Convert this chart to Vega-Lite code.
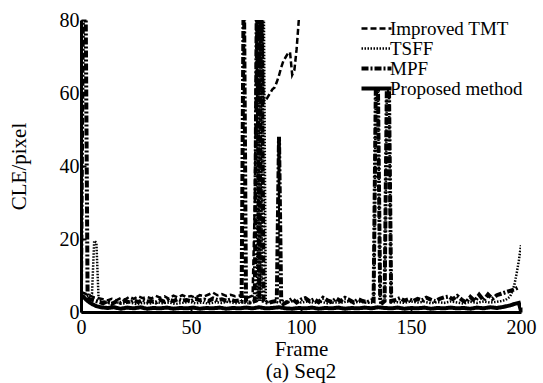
{
  "$schema": "https://vega.github.io/schema/vega-lite/v6.json",
  "width": 440,
  "height": 292,
  "autosize": {"type": "none"},
  "padding": {"left": 81, "top": 20, "right": 22, "bottom": 71},
  "background": "white",
  "config": {
    "view": {"stroke": null},
    "font": "Liberation Serif",
    "axis": {
      "domainColor": "black", "domainWidth": 3, "tickColor": "black", "tickWidth": 2,
      "labelColor": "black", "titleColor": "black", "labelFont": "Liberation Serif", "titleFont": "Liberation Serif",
      "labelFontSize": 20, "titleFontSize": 21, "titleFontWeight": "normal", "grid": false
    },
    "legend": {
      "labelFont": "Liberation Serif", "labelFontSize": 19, "labelColor": "black", "rowPadding": 0
    }
  },
  "title": {"text": "(a) Seq2", "orient": "bottom", "font": "Liberation Serif", "fontSize": 21, "fontWeight": "normal", "color": "black", "offset": 2},
  "encoding": {
    "x": {"field": "f", "type": "quantitative", "scale": {"domain": [0, 200], "nice": false},
      "axis": {"title": "Frame", "values": [0, 50, 100, 150, 200], "tickSize": -5, "labelPadding": 10, "titlePadding": 1, "labelFlush": false}},
    "y": {"field": "v", "type": "quantitative", "scale": {"domain": [0, 80], "nice": false},
      "axis": {"title": "CLE/pixel", "values": [0, 20, 40, 60, 80], "tickSize": -5, "labelPadding": 7, "titlePadding": 30, "labelFlush": false}}
  },
  "layer": [
    {
      "data": {"values": [
        {"f":0,"v":5.5},{"f":2,"v":5},{"f":4,"v":4.5},{"f":6,"v":4},{"f":8,"v":3.8},{"f":10,"v":3.5},{"f":12,"v":3.2},{"f":14,"v":3.6},{"f":16,"v":3.2},{"f":18,"v":3.8},{"f":20,"v":3.4},{"f":22,"v":4.2},{"f":24,"v":3.6},{"f":26,"v":4.3},{"f":28,"v":3.8},{"f":30,"v":4.1},{"f":32,"v":3.7},{"f":34,"v":4.4},{"f":36,"v":3.9},{"f":38,"v":4.3},{"f":40,"v":3.6},{"f":42,"v":4.5},{"f":44,"v":4.0},{"f":46,"v":4.6},{"f":48,"v":4.1},{"f":50,"v":4.4},{"f":52,"v":3.9},{"f":54,"v":4.6},{"f":56,"v":4.3},{"f":58,"v":4.8},{"f":60,"v":5.3},{"f":62,"v":4.6},{"f":64,"v":4.9},{"f":66,"v":4.4},{"f":68,"v":4.7},{"f":70,"v":4.3},{"f":72,"v":4.5},{"f":74,"v":4.2},{"f":76,"v":4.0},{"f":78,"v":4.5},{"f":79,"v":30},{"f":80,"v":95},{"f":81,"v":58},{"f":82,"v":95},{"f":83,"v":57.5},{"f":84,"v":58},{"f":85,"v":59},{"f":86,"v":60},{"f":87,"v":61},{"f":88,"v":61.5},{"f":89,"v":63},{"f":90,"v":64.8},{"f":91,"v":67},{"f":92,"v":68.8},{"f":93,"v":69.8},{"f":94,"v":70.8},{"f":95,"v":71.2},{"f":96,"v":65},{"f":97,"v":66.3},{"f":98,"v":72},{"f":99,"v":80},{"f":100,"v":88}
      ]},
      "mark": {"type": "line", "clip": true, "color": "black", "strokeWidth": 2.5},
      "encoding": {
        "strokeDash": {"datum": "Improved TMT"}
      }
    },
    {
      "data": {"values": [
        {"f":0,"v":3.8},{"f":2,"v":4.2},{"f":4,"v":4.5},{"f":5,"v":5},{"f":6,"v":19.5},{"f":7,"v":19},{"f":8,"v":3.5},{"f":10,"v":2.8},{"f":13,"v":2.4},{"f":16,"v":2.7},{"f":19,"v":2.3},{"f":22,"v":2.6},{"f":25,"v":2.2},{"f":28,"v":2.5},{"f":31,"v":2.3},{"f":34,"v":2.7},{"f":37,"v":2.4},{"f":40,"v":2.6},{"f":43,"v":2.2},{"f":46,"v":2.5},{"f":49,"v":2.8},{"f":52,"v":2.4},{"f":55,"v":2.6},{"f":58,"v":2.3},{"f":61,"v":2.7},{"f":64,"v":2.5},{"f":67,"v":2.8},{"f":70,"v":2.4},{"f":73,"v":2.6},{"f":76,"v":2.4},{"f":78,"v":2.7},{"f":80,"v":3},{"f":81,"v":95},{"f":82,"v":3},{"f":83,"v":95},{"f":84,"v":3},{"f":86,"v":2.6},{"f":88,"v":3.0},{"f":90,"v":2.5},{"f":92,"v":3.0},{"f":94,"v":2.7},{"f":97,"v":3.0},{"f":100,"v":2.6},{"f":103,"v":2.9},{"f":106,"v":2.5},{"f":109,"v":2.8},{"f":112,"v":2.4},{"f":115,"v":2.7},{"f":118,"v":2.5},{"f":121,"v":2.9},{"f":124,"v":2.6},{"f":127,"v":2.8},{"f":130,"v":2.5},{"f":133,"v":2.6},{"f":134,"v":60},{"f":135,"v":60},{"f":136,"v":2.6},{"f":138,"v":2.6},{"f":139,"v":60},{"f":140,"v":60},{"f":141,"v":2.6},{"f":144,"v":2.7},{"f":147,"v":2.5},{"f":150,"v":2.9},{"f":153,"v":2.6},{"f":156,"v":2.8},{"f":159,"v":2.4},{"f":162,"v":2.7},{"f":165,"v":2.5},{"f":168,"v":2.9},{"f":171,"v":2.6},{"f":174,"v":2.3},{"f":177,"v":2.8},{"f":180,"v":2.5},{"f":183,"v":2.9},{"f":186,"v":2.6},{"f":189,"v":2.8},{"f":191,"v":3.0},{"f":193,"v":3.3},{"f":195,"v":4.2},{"f":196,"v":5.5},{"f":197,"v":7.5},{"f":198,"v":10.5},{"f":199,"v":14},{"f":200,"v":18.3}
      ]},
      "mark": {"type": "line", "clip": true, "color": "black", "strokeWidth": 2.5},
      "encoding": {
        "strokeDash": {"datum": "TSFF"}
      }
    },
    {
      "data": {"values": [
        {"f":0,"v":5},{"f":1,"v":95},{"f":2,"v":95},{"f":3,"v":4},{"f":4,"v":3.5},{"f":6,"v":3.2},{"f":8,"v":2.8},{"f":10,"v":2.4},{"f":12,"v":3.0},{"f":14,"v":2.2},{"f":16,"v":2.9},{"f":18,"v":2.5},{"f":20,"v":3.1},{"f":22,"v":2.6},{"f":24,"v":3.2},{"f":26,"v":2.7},{"f":28,"v":3.3},{"f":30,"v":2.9},{"f":32,"v":3.0},{"f":34,"v":2.6},{"f":36,"v":3.3},{"f":38,"v":2.8},{"f":40,"v":3.4},{"f":42,"v":3.0},{"f":44,"v":3.5},{"f":46,"v":3.1},{"f":48,"v":3.3},{"f":50,"v":2.9},{"f":52,"v":3.6},{"f":54,"v":3.2},{"f":56,"v":3.4},{"f":58,"v":3.0},{"f":60,"v":3.7},{"f":62,"v":3.3},{"f":64,"v":3.5},{"f":66,"v":3.1},{"f":68,"v":3.4},{"f":70,"v":3.0},{"f":72,"v":3.2},{"f":73,"v":3},{"f":74,"v":95},{"f":75,"v":3},{"f":76,"v":2.5},{"f":78,"v":2.8},{"f":79,"v":3},{"f":80,"v":95},{"f":81,"v":3},{"f":82,"v":95},{"f":83,"v":3},{"f":85,"v":2.5},{"f":87,"v":2.8},{"f":89,"v":3},{"f":90,"v":48},{"f":91,"v":3},{"f":92,"v":2.2},{"f":94,"v":2.8},{"f":96,"v":3.6},{"f":98,"v":2.6},{"f":100,"v":3.4},{"f":102,"v":3.8},{"f":104,"v":2.9},{"f":106,"v":3.5},{"f":108,"v":2.7},{"f":110,"v":3.9},{"f":112,"v":3.2},{"f":114,"v":2.8},{"f":116,"v":3.7},{"f":118,"v":3.0},{"f":120,"v":3.9},{"f":122,"v":3.3},{"f":124,"v":2.6},{"f":126,"v":3.5},{"f":128,"v":3.0},{"f":130,"v":2.7},{"f":132,"v":3.2},{"f":133,"v":3},{"f":134,"v":61},{"f":135,"v":61},{"f":136,"v":3},{"f":137,"v":2.5},{"f":138,"v":3},{"f":139,"v":61},{"f":140,"v":61},{"f":141,"v":3},{"f":143,"v":3.3},{"f":145,"v":3.8},{"f":147,"v":3.1},{"f":149,"v":3.5},{"f":151,"v":3.0},{"f":153,"v":3.6},{"f":155,"v":3.2},{"f":157,"v":3.9},{"f":159,"v":3.4},{"f":161,"v":3.0},{"f":163,"v":3.6},{"f":165,"v":4.0},{"f":167,"v":4.2},{"f":169,"v":3.5},{"f":171,"v":4.4},{"f":173,"v":3.4},{"f":175,"v":2.6},{"f":177,"v":4.1},{"f":179,"v":3.0},{"f":181,"v":4.7},{"f":183,"v":3.2},{"f":185,"v":4.8},{"f":187,"v":3.6},{"f":189,"v":4.6},{"f":191,"v":5.0},{"f":193,"v":5.4},{"f":195,"v":5.8},{"f":197,"v":6.2},{"f":199,"v":6.8}
      ]},
      "mark": {"type": "line", "clip": true, "color": "black", "strokeWidth": 4},
      "encoding": {
        "strokeDash": {"datum": "MPF"}
      }
    },
    {
      "data": {"values": [
        {"f":0,"v":4.6},{"f":1,"v":4.2},{"f":2,"v":3.6},{"f":3,"v":3.0},{"f":5,"v":2.2},{"f":7,"v":1.6},{"f":9,"v":1.3},{"f":12,"v":1.1},{"f":15,"v":1.3},{"f":18,"v":0.9},{"f":21,"v":1.2},{"f":24,"v":1.0},{"f":27,"v":1.3},{"f":30,"v":0.9},{"f":33,"v":1.1},{"f":36,"v":1.0},{"f":39,"v":1.2},{"f":42,"v":0.9},{"f":45,"v":1.1},{"f":48,"v":1.0},{"f":51,"v":1.2},{"f":54,"v":0.9},{"f":57,"v":1.1},{"f":60,"v":1.0},{"f":63,"v":1.2},{"f":66,"v":0.9},{"f":69,"v":1.1},{"f":72,"v":1.0},{"f":75,"v":1.2},{"f":78,"v":1.0},{"f":81,"v":1.3},{"f":84,"v":1.0},{"f":87,"v":1.1},{"f":90,"v":1.3},{"f":93,"v":1.0},{"f":96,"v":0.9},{"f":99,"v":1.1},{"f":102,"v":1.0},{"f":105,"v":1.2},{"f":108,"v":0.9},{"f":111,"v":1.1},{"f":114,"v":1.0},{"f":117,"v":1.2},{"f":120,"v":0.9},{"f":123,"v":1.1},{"f":126,"v":1.0},{"f":129,"v":1.2},{"f":132,"v":1.0},{"f":135,"v":1.3},{"f":138,"v":1.1},{"f":141,"v":1.0},{"f":144,"v":1.2},{"f":147,"v":0.9},{"f":150,"v":1.1},{"f":153,"v":1.0},{"f":156,"v":1.2},{"f":159,"v":0.9},{"f":162,"v":1.1},{"f":165,"v":1.0},{"f":168,"v":1.2},{"f":171,"v":1.0},{"f":174,"v":1.1},{"f":177,"v":0.9},{"f":180,"v":1.2},{"f":183,"v":1.0},{"f":186,"v":1.3},{"f":189,"v":1.1},{"f":192,"v":1.4},{"f":195,"v":1.8},{"f":197,"v":2.2},{"f":199,"v":2.5},{"f":200,"v":0.3}
      ]},
      "mark": {"type": "line", "clip": true, "color": "black", "strokeWidth": 4},
      "encoding": {
        "strokeDash": {"datum": "Proposed method",
          "scale": {"domain": ["Improved TMT", "TSFF", "MPF", "Proposed method"], "range": [[6, 3], [1.5, 1.5], [7, 2, 2, 2], [1, 0]]},
          "legend": {"title": null, "orient": "none", "legendX": 288, "legendY": -1, "padding": 0, "rowPadding": 0,
            "symbolType": "M-3.4,0H2.6", "symbolSize": 100, "symbolStrokeColor": "black", "symbolFillColor": "transparent", "labelOffset": 2, "labelFontSize": 19,
            "encode": {"symbols": {"update": {"strokeWidth": {"signal": "datum.value === 'MPF' || datum.value === 'Proposed method' ? 4 : 2.5"}}}}}}
      }
    }
  ]
}
